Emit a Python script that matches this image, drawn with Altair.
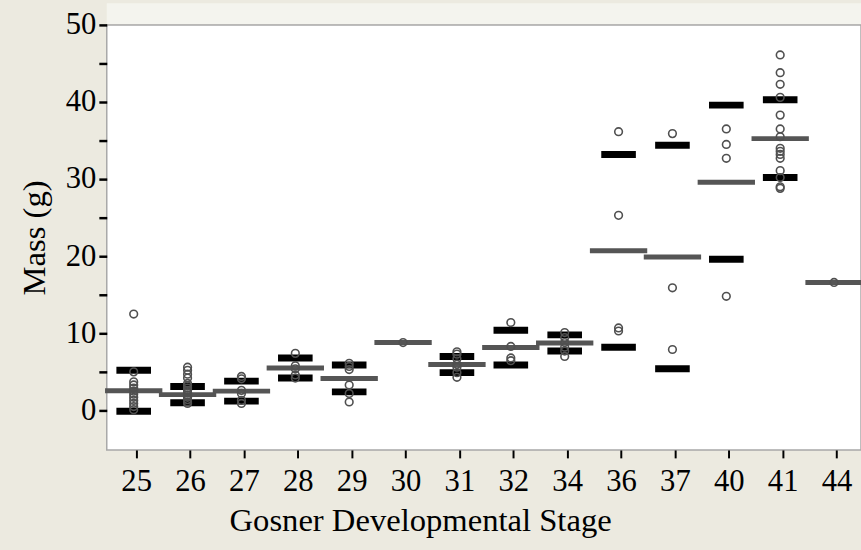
import altair as alt
import pandas as pd

# Gosner stages on the x axis
stages = ["25", "26", "27", "28", "29", "30", "31", "32", "34", "36", "37", "40", "41", "44"]

# Group means and standard deviations of tadpole mass (g); None where n = 1
means = [2.55, 2.05, 2.5, 5.5, 4.15, 8.8, 5.95, 8.15, 8.75, 20.7, 19.9, 29.6, 35.25, 16.6]
std_devs = [2.65, 1.05, 1.3, 1.3, 1.75, None, 1.05, 2.25, 1.05, 12.5, 14.5, 10.0, 5.05, None]

# Individual masses (g) per stage
masses = {
    "25": [12.5, 5.0, 3.7, 3.3, 2.9, 2.5, 2.1, 1.7, 1.3, 0.9, 0.5, 0.1],
    "26": [5.6, 5.2, 4.7, 4.2, 3.5, 3.2, 2.9, 2.6, 2.3, 2.0, 1.7, 1.4, 1.1, 0.9],
    "27": [4.4, 4.1, 2.6, 2.2, 1.3, 0.9],
    "28": [7.4, 5.8, 5.4, 4.6, 4.2],
    "29": [6.1, 5.7, 5.3, 3.3, 2.2, 1.1],
    "30": [8.8],
    "31": [7.6, 7.3, 6.7, 6.0, 5.6, 4.9, 4.3],
    "32": [11.4, 8.3, 6.8, 6.45],
    "34": [10.1, 9.45, 8.8, 8.2, 7.7, 7.0],
    "36": [36.15, 25.3, 10.7, 10.3],
    "37": [35.9, 15.9, 7.9],
    "40": [36.5, 34.5, 32.7, 14.8],
    "41": [46.1, 43.8, 42.3, 40.6, 38.3, 36.5, 35.5, 34.0, 33.6, 33.2,
           32.7, 31.1, 30.2, 29.0, 28.8],
    "44": [16.6],
}

summary = pd.DataFrame({"stage": stages, "mean": means, "sd": std_devs})
points = pd.DataFrame(
    [{"stage": s, "mass": m} for s in stages for m in masses[s]]
)

W, H = 763, 430
FONT = "Liberation Serif"

x_enc = alt.X(
    "stage:N",
    sort=stages,
    scale=alt.Scale(paddingInner=0, paddingOuter=0),
    axis=alt.Axis(
        title="Gosner Developmental Stage",
        labelAngle=0,
        labelFont=FONT,
        labelFontSize=31,
        labelColor="black",
        labelPadding=9,
        tickColor="black",
        tickSize=8,
        tickWidth=2,
        tickOffset=2.5,
        domain=False,
        grid=False,
        titleFont=FONT,
        titleFontSize=33,
        titleFontWeight="normal",
        titleColor="black",
        titleX=317,
        titleY=71,
        titleAlign="center",
        titleBaseline="middle",
    ),
)

y_scale = alt.Scale(domain=[-5.13, 50], nice=False, zero=False)
y_axis = alt.Axis(
    title="Mass (g)",
    values=[0, 5, 10, 15, 20, 25, 30, 35, 40, 45, 50],
    labelExpr="datum.value % 10 === 0 ? datum.label : ''",
    labelOverlap=False,
    labelFont=FONT,
    labelFontSize=31,
    labelColor="black",
    labelPadding=3,
    tickColor="black",
    tickSize=8,
    tickWidth=2.5,
    domain=False,
    grid=False,
    titleFont=FONT,
    titleFontSize=33,
    titleFontWeight="normal",
    titleColor="black",
    titleAngle=-90,
    titleX=-73,
    titleY=215,
    titleAlign="center",
    titleBaseline="middle",
)

# light strip above the plot frame
strip = alt.Chart(pd.DataFrame({"k": [0]})).mark_rect(
    color="#F4F4EE", clip=False
).encode(
    x=alt.value(0), x2=alt.value(W), y=alt.value(-22), y2=alt.value(-1)
)

sd_base = alt.Chart(summary).transform_filter(
    "isValid(datum.sd)"
).transform_calculate(
    upper="datum.mean + datum.sd", lower="datum.mean - datum.sd"
)

sd_upper = sd_base.mark_tick(color="black", size=35, thickness=7, opacity=1).encode(
    x=x_enc, y=alt.Y("upper:Q", scale=y_scale, axis=y_axis)
)
sd_lower = sd_base.mark_tick(color="black", size=35, thickness=7, opacity=1).encode(
    x=x_enc, y=alt.Y("lower:Q", scale=y_scale, axis=y_axis)
)

mean_lines = alt.Chart(summary).mark_tick(
    color="#555555", size=58, thickness=5, opacity=1
).encode(
    x=x_enc, y=alt.Y("mean:Q", scale=y_scale, axis=y_axis)
)

dots = alt.Chart(points).mark_point(
    shape="circle", filled=False, color="#505050", size=60, strokeWidth=1.6, opacity=1
).encode(
    x=x_enc, y=alt.Y("mass:Q", scale=y_scale, axis=y_axis)
)

chart = alt.layer(strip, sd_upper, sd_lower, mean_lines, dots).properties(
    width=W,
    height=H,
    autosize=alt.AutoSizeParams(type="none"),
    padding={"left": 108, "top": 22, "right": 0, "bottom": 98},
    background="#ECEAE0",
).configure_view(
    fill="white", stroke="#A8A8A8", strokeWidth=1.5
)

chart.save("out.html", embed_options={"renderer": "svg", "actions": False})
